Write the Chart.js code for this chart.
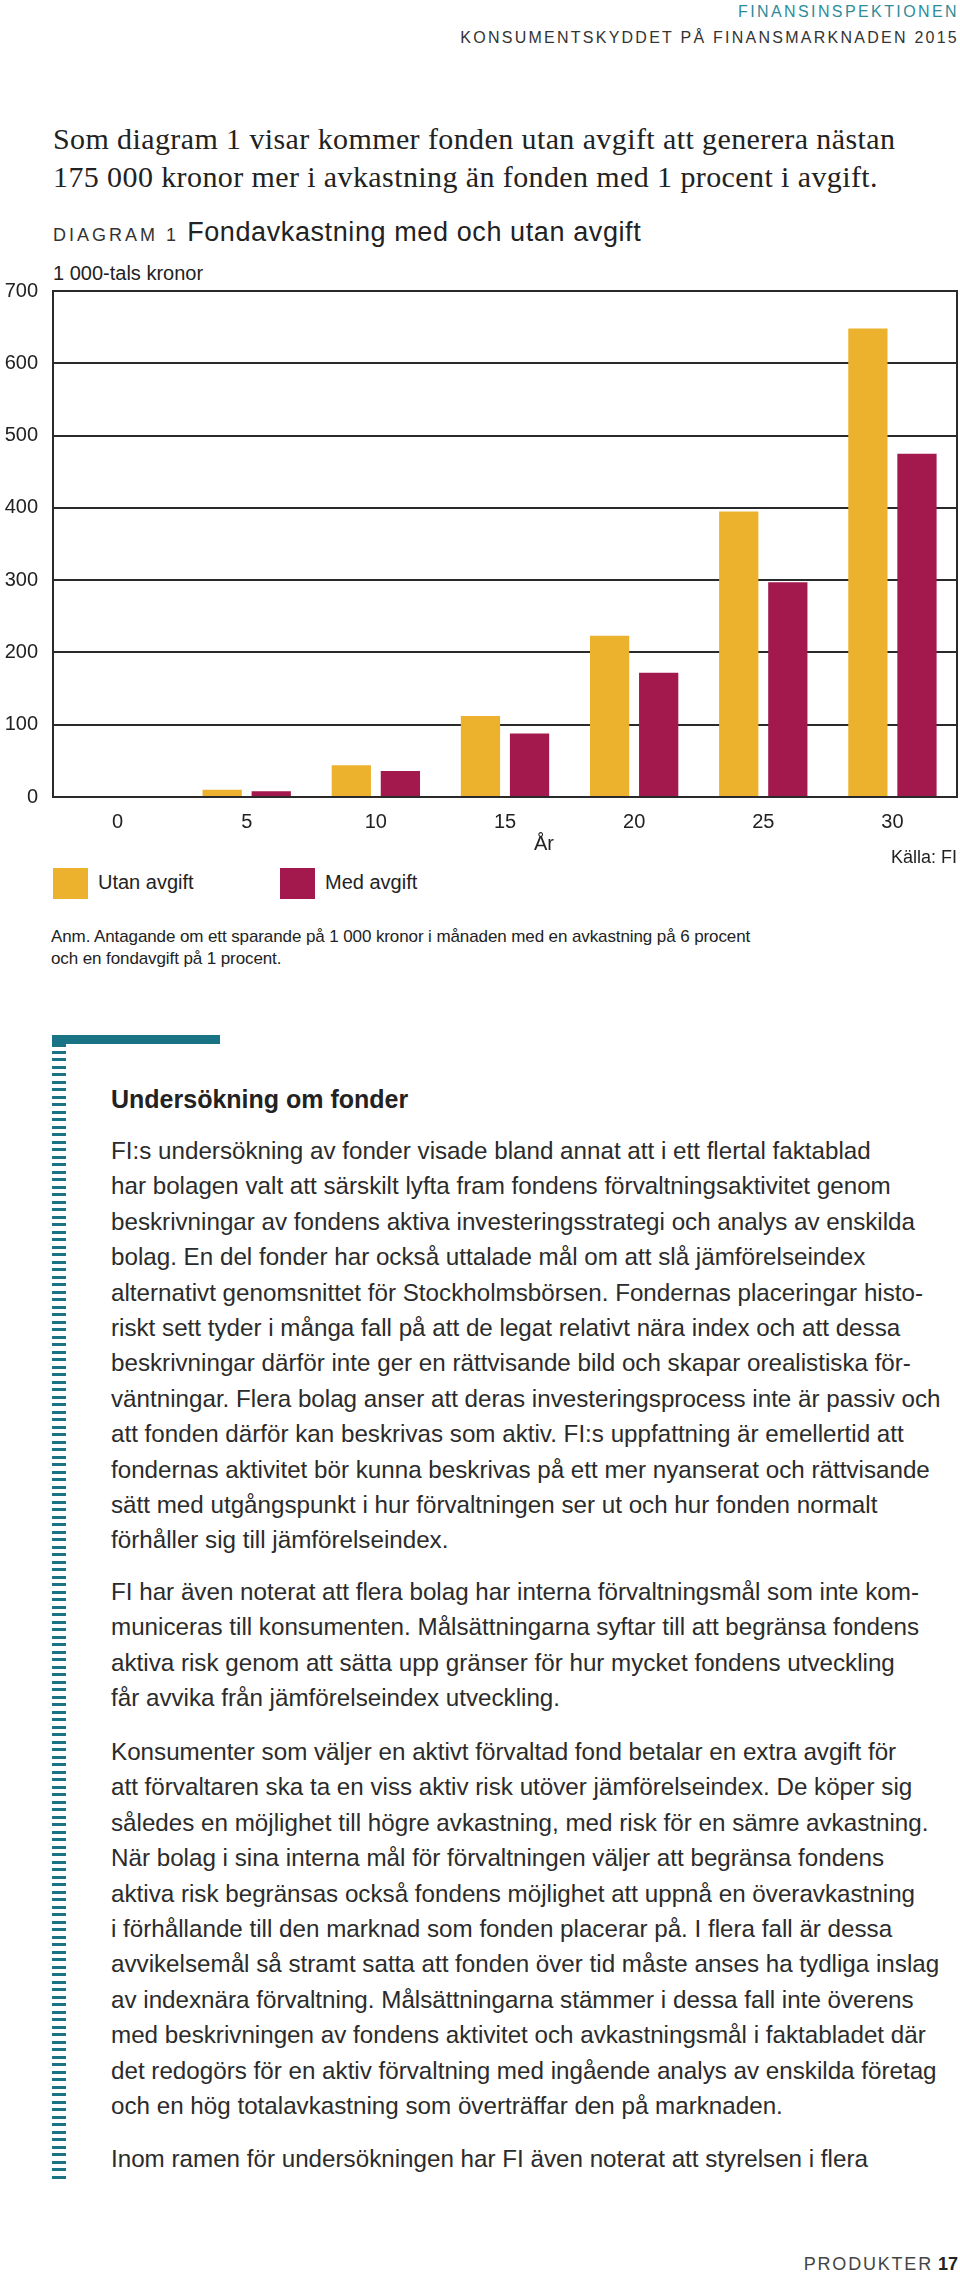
<!DOCTYPE html>
<html lang="sv">
<head>
<meta charset="utf-8">
<script src="https://cdn.jsdelivr.net/npm/chart.js@4"></script>
<style>
  body { margin: 0; width: 960px; height: 2273px; position: relative; background: #fff;
         font-family: "Liberation Sans", Arial, sans-serif; color: #222; overflow: hidden; }
  .t { position: absolute; white-space: nowrap; }
  .hdr { font-size: 16px; line-height: 20px; letter-spacing: 2.4px; right: 1px; }
  .lead { left: 53px; top: 120px; font-family: "Liberation Serif", serif; font-size: 30px; line-height: 38px; letter-spacing: 0.4px; color: #222; }
  .title { left: 53px; top: 216.5px; font-size: 27px; line-height: 30px; letter-spacing: 0.6px; color: #222; }
  .title .small { font-size: 18px; letter-spacing: 3px; color: #333; }
  .body { left: 111px; font-size: 24.2px; line-height: 35.4px; color: #2b2b2b; }
  .box { position: absolute; width: 35px; height: 31px; top: 868px; }
  #chartWrap { position: absolute; left: 0; top: 264px; width: 960px; height: 583px; }
</style>
</head>
<body>

<div class="t hdr" style="top:1.5px; color:#2e8c9a;">FINANSINSPEKTIONEN</div>
<div class="t hdr" style="top:27.5px; color:#333; letter-spacing:2.25px;">KONSUMENTSKYDDET PÅ FINANSMARKNADEN 2015</div>

<div class="t lead">Som diagram 1 visar kommer fonden utan avgift att generera nästan<br>175 000 kronor mer i avkastning än fonden med 1 procent i avgift.</div>

<div class="t title"><span class="small">DIAGRAM 1</span> Fondavkastning med och utan avgift</div>
<div class="t" style="left:53px; top:261px; font-size:20px; line-height:24px;">1 000-tals kronor</div>

<div id="chartWrap"><canvas id="chart"></canvas></div>

<div class="t" style="left:544px; top:831px; font-size:20px; line-height:24px; transform:translateX(-50%);">År</div>
<div class="t" style="right:3px; top:846px; font-size:18px; line-height:22px;">Källa: FI</div>
<div id="legend"></div>

<div class="t" style="left:51px; top:926px; font-size:17px; line-height:22px; letter-spacing:-0.1px;">Anm. Antagande om ett sparande på 1 000 kronor i månaden med en avkastning på 6 procent<br>och en fondavgift på 1 procent.</div>

<div style="position:absolute; left:52px; top:1035px; width:168px; height:9px; background:#1a7385;"></div>
<div style="position:absolute; left:52px; top:1044px; width:14px; height:3px; background:#1a7385;"></div>
<div style="position:absolute; left:52px; top:1051px; width:14px; height:1132px;
     background: repeating-linear-gradient(to bottom, #1a7385 0, #1a7385 3px, transparent 3px, transparent 7.5px);"></div>

<div class="t" style="left:111px; top:1084px; font-size:25px; line-height:30px; font-weight:bold; color:#222;">Undersökning om fonder</div>

<div class="t body" style="top:1133px;">FI:s undersökning av fonder visade bland annat att i ett flertal faktablad<br>har bolagen valt att särskilt lyfta fram fondens förvaltningsaktivitet genom<br>beskrivningar av fondens aktiva investeringsstrategi och analys av enskilda<br>bolag. En del fonder har också uttalade mål om att slå jämförelseindex<br>alternativt genomsnittet för Stockholmsbörsen. Fondernas placeringar histo-<br>riskt sett tyder i många fall på att de legat relativt nära index och att dessa<br>beskrivningar därför inte ger en rättvisande bild och skapar orealistiska för-<br>väntningar. Flera bolag anser att deras investeringsprocess inte är passiv och<br>att fonden därför kan beskrivas som aktiv. FI:s uppfattning är emellertid att<br>fondernas aktivitet bör kunna beskrivas på ett mer nyanserat och rättvisande<br>sätt med utgångspunkt i hur förvaltningen ser ut och hur fonden normalt<br>förhåller sig till jämförelseindex.</div>

<div class="t body" style="top:1574px;">FI har även noterat att flera bolag har interna förvaltningsmål som inte kom-<br>municeras till konsumenten. Målsättningarna syftar till att begränsa fondens<br>aktiva risk genom att sätta upp gränser för hur mycket fondens utveckling<br>får avvika från jämförelseindex utveckling.</div>

<div class="t body" style="top:1734px;">Konsumenter som väljer en aktivt förvaltad fond betalar en extra avgift för<br>att förvaltaren ska ta en viss aktiv risk utöver jämförelseindex. De köper sig<br>således en möjlighet till högre avkastning, med risk för en sämre avkastning.<br>När bolag i sina interna mål för förvaltningen väljer att begränsa fondens<br>aktiva risk begränsas också fondens möjlighet att uppnå en överavkastning<br>i förhållande till den marknad som fonden placerar på. I flera fall är dessa<br>avvikelsemål så stramt satta att fonden över tid måste anses ha tydliga inslag<br>av indexnära förvaltning. Målsättningarna stämmer i dessa fall inte överens<br>med beskrivningen av fondens aktivitet och avkastningsmål i faktabladet där<br>det redogörs för en aktiv förvaltning med ingående analys av enskilda företag<br>och en hög totalavkastning som överträffar den på marknaden.</div>

<div class="t body" style="top:2141px;">Inom ramen för undersökningen har FI även noterat att styrelsen i flera</div>

<div class="t" style="right:2px; top:2253px; font-size:18px; line-height:22px; color:#444;"><span style="letter-spacing:1.8px;">PRODUKTER</span> <b style="color:#222;">17</b></div>

<script>
// år och avkastning i 1 000-tals kronor
const years = ['0', '5', '10', '15', '20', '25', '30'];
const utanAvgift = [0, 10, 44, 112, 223, 395, 648];
const medAvgift = [0, 8, 36, 88, 172, 297, 475];
const seriesNames = ['Utan avgift', 'Med avgift'];
const seriesColors = ['#ecb22e', '#a3194d'];

Chart.defaults.font.family = '"Liberation Sans", Arial, sans-serif';
Chart.defaults.color = '#222';

const lineColor = '#2a2a2a';

const chart = new Chart(document.getElementById('chart'), {
    type: 'bar',
    data: {
        labels: years,
        datasets: [
            { label: seriesNames[0], data: utanAvgift, backgroundColor: seriesColors[0] },
            { label: seriesNames[1], data: medAvgift, backgroundColor: seriesColors[1] }
        ]
    },
    options: {
        responsive: true,
        maintainAspectRatio: false,
        animation: false,
        layout: { padding: { top: 12, right: 3, left: 0, bottom: 0 } },
        categoryPercentage: 0.76,
        barPercentage: 0.8,
        plugins: { legend: { display: false }, tooltip: { enabled: false } },
        scales: {
            x: {
                grid: { display: false, drawTicks: false },
                border: { display: true, color: lineColor, width: 2 },
                ticks: { font: { size: 20 }, padding: 13, maxRotation: 0 }
            },
            y: {
                min: 0,
                max: 700,
                grid: { color: lineColor, lineWidth: 2, drawTicks: false },
                border: { display: true, color: lineColor, width: 2 },
                ticks: { stepSize: 100, font: { size: 20 }, padding: 15 },
                afterFit: s => { s.width = 53; }
            },
            y2: {
                position: 'right',
                min: 0,
                max: 700,
                grid: { display: false, drawTicks: false },
                border: { display: true, color: lineColor, width: 2 },
                ticks: { display: false },
                afterFit: s => { s.width = 0; }
            }
        }
    }
});

// legend under the chart, built from the datasets
const legend = document.getElementById('legend');
const legendX = [53, 280];
chart.data.datasets.forEach((ds, i) => {
    const box = document.createElement('div');
    box.className = 'box';
    box.style.left = legendX[i] + 'px';
    box.style.background = ds.backgroundColor;
    legend.appendChild(box);
    const txt = document.createElement('div');
    txt.className = 't';
    txt.style.cssText = `left:${legendX[i] + 45}px; top:870px; font-size:20px; line-height:24px;`;
    txt.textContent = ds.label;
    legend.appendChild(txt);
});
</script>
</body>
</html>
